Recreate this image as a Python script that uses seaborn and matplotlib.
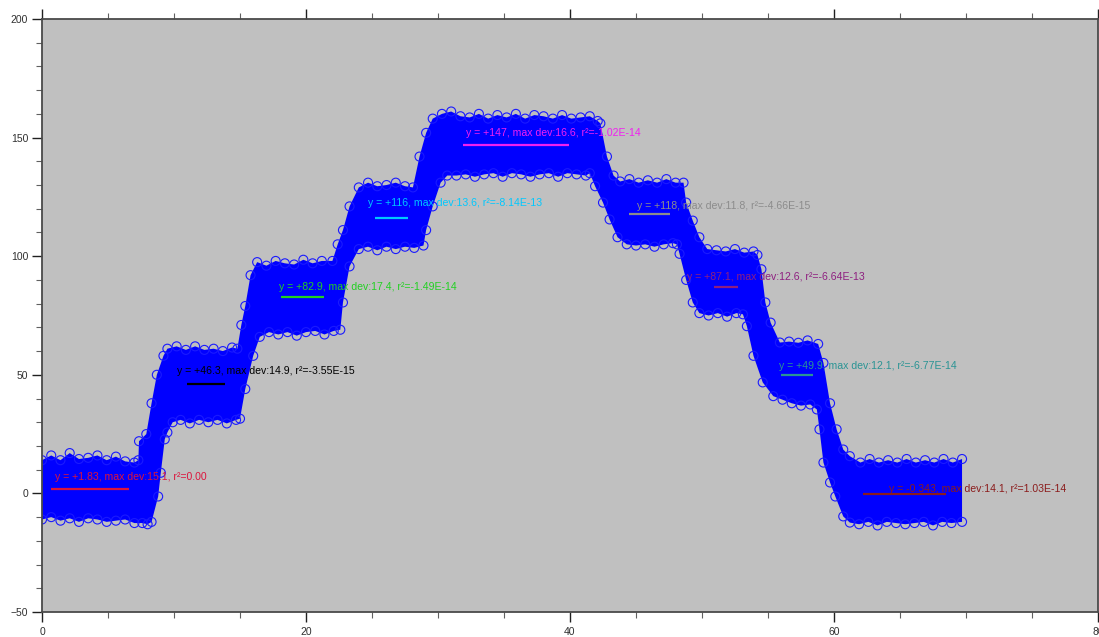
import matplotlib
matplotlib.use("Agg")
import matplotlib.pyplot as plt
import seaborn as sns
import pandas as pd
from matplotlib.ticker import MultipleLocator

# ---- data ----
upper_x = [0, 0.7, 1.4, 2.1, 2.8, 3.5, 4.2, 4.9, 5.6, 6.3, 7.0, 7.3, 7.35, 7.9, 8.3, 8.7, 9.2, 9.5,
           10.2, 10.9, 11.6, 12.3, 13.0, 13.7, 14.4, 14.8, 15.1, 15.4, 15.8, 16.3,
           17.0, 17.7, 18.4, 19.1, 19.8, 20.5, 21.2, 22.0, 22.4, 22.8, 23.3, 24.0,
           24.7, 25.4, 26.1, 26.8, 27.5, 28.1, 28.6, 29.1, 29.6,
           30.3, 31.0, 31.7, 32.4, 33.1, 33.8, 34.5, 35.2, 35.9, 36.6, 37.3, 38.0, 38.7, 39.4, 40.1, 40.8, 41.5, 42.1,
           42.3, 42.8, 43.3, 43.8, 44.5, 45.2, 45.9, 46.6, 47.3, 48.0, 48.6,
           48.8, 49.3, 49.8, 50.4, 51.1, 51.8, 52.5, 53.2, 53.9, 54.2, 54.5, 54.8, 55.2, 55.9,
           56.6, 57.3, 58.0, 58.8, 59.2, 59.7, 60.2, 60.7, 61.2, 62.0,
           62.7, 63.4, 64.1, 64.8, 65.5, 66.2, 66.9, 67.6, 68.3, 69.0, 69.7]
upper_y = [14, 16, 14, 17, 14.5, 15, 16, 14, 15.5, 13.5, 13, 14, 22, 25, 38, 50, 58, 61,
           62, 60.5, 62, 60.5, 61, 60, 61.5, 61, 71, 79, 92, 97.5,
           96, 98, 97, 96.5, 98.5, 97, 98, 98, 105, 111, 121, 129,
           131, 129.5, 130, 131, 129.5, 129, 142, 152, 158,
           160, 161, 159, 158.5, 160, 158, 159.5, 158.5, 160, 158, 159.5, 159, 158, 159.5, 158, 158.5, 159, 157,
           156, 142, 134, 131.5, 132.5, 131, 132, 131, 132.5, 131, 131,
           122.6, 115, 108, 103, 102.5, 102, 103, 101.5, 102, 100.5, 94.5, 80.5, 72, 63.6,
           64, 63.5, 64.5, 63, 55, 38, 27, 18.5, 15.7, 13,
           14.5, 13, 14, 13, 14.5, 13, 14, 13, 14.5, 13, 14.5]

lower_x = [0, 0.7, 1.4, 2.1, 2.8, 3.5, 4.2, 4.9, 5.6, 6.3, 7.0, 7.6, 8.0, 8.3, 8.8, 9.0, 9.3, 9.5, 9.9,
           10.5, 11.2, 11.9, 12.6, 13.3, 14.0, 14.7, 15.0, 15.4, 16.0, 16.5,
           17.2, 17.9, 18.6, 19.3, 20.0, 20.7, 21.4, 22.1, 22.6, 22.8, 23.3, 24.0,
           24.7, 25.4, 26.1, 26.8, 27.5, 28.2, 28.9, 29.1, 29.6, 30.2, 30.7,
           31.4, 32.1, 32.8, 33.5, 34.2, 34.9, 35.6, 36.3, 37.0, 37.7, 38.4, 39.1, 39.8, 40.5, 41.2, 41.5,
           41.9, 42.5, 43.0, 43.6, 44.3, 45.0, 45.7, 46.4, 47.1, 47.8, 48.1,
           48.3, 48.8, 49.3, 49.8, 50.5, 51.2, 51.9, 52.6, 53.1, 53.4, 53.9, 54.6, 55.4,
           56.1, 56.8, 57.5, 58.2, 58.7, 58.9, 59.2, 59.7, 60.1, 60.7, 61.2,
           61.9, 62.6, 63.3, 64.0, 64.7, 65.4, 66.1, 66.8, 67.5, 68.2, 68.9, 69.7]
lower_y = [-11, -10, -11.5, -10.5, -12, -10.5, -11, -12, -11.5, -11, -12.5, -12.5, -13, -12, -1.3, 8.7, 22.8, 25.7, 30,
           31, 29.5, 31, 30, 31, 29.5, 31, 31.5, 44, 58, 66,
           68, 67, 68, 66.5, 68, 68.5, 67, 68.5, 69, 80.5, 95.7, 103,
           104, 102.5, 104, 103, 104, 103.5, 104.5, 111, 121, 131, 134,
           134, 134.5, 133.5, 134.5, 135, 133.5, 135, 134.5, 133.5, 134.5, 135, 133.5, 135, 134.5, 134, 135,
           129.5, 122.6, 115.5, 108, 105, 104.5, 105, 104, 105, 105.5, 105,
           101, 90, 80.5, 76, 75, 76, 74.5, 76, 75.5, 70.5, 58, 46.8, 41,
           39.5, 38, 37, 37.5, 35.4, 27, 13, 4.6, -1.3, -9.7, -12.3,
           -13, -12, -13.5, -12, -12.5, -13, -12.5, -12, -13.5, -12, -12.5, -12]

fit_levels = [1.83, 46.3, 82.9, 116, 147, 118, 87.1, 49.9, -0.343]
fit_x_start = [0.68, 11.0, 18.1, 25.2, 31.9, 44.5, 50.9, 56.0, 62.2]
fit_x_end = [6.6, 13.9, 21.4, 27.7, 39.9, 47.6, 52.7, 58.4, 68.5]
fit_labels = [
    "y = +1.83, max dev:15.1, r\u00b2=0.00",
    "y = +46.3, max dev:14.9, r\u00b2=-3.55E-15",
    "y = +82.9, max dev:17.4, r\u00b2=-1.49E-14",
    "y = +116, max dev:13.6, r\u00b2=-8.14E-13",
    "y = +147, max dev:16.6, r\u00b2=-1.02E-14",
    "y = +118, max dev:11.8, r\u00b2=-4.66E-15",
    "y = +87.1, max dev:12.6, r\u00b2=-6.64E-13",
    "y = +49.9, max dev:12.1, r\u00b2=-6.77E-14",
    "y = -0.343, max dev:14.1, r\u00b2=1.03E-14",
]
label_x = [0.98, 10.2, 17.98, 24.7, 32.1, 45.1, 48.9, 55.8, 64.2]
label_y = [7.0, 51.6, 87.0, 122.5, 152.0, 121.1, 91.3, 53.7, 2.0]
fit_colors = ["#dc143c", "#000000", "#22d022", "#00c8ff", "#f020f0",
              "#8c8c8c", "#8e1f80", "#2a9494", "#8b1c1c"]

x_ticks = [0, 20, 40, 60, 80]
y_ticks = [-50, 0, 50, 100, 150, 200]

# ---- figure ----
sns.set_theme(style="white")
plt.rcParams["font.family"] = ["Liberation Sans", "DejaVu Sans"]

fig = plt.figure(figsize=(10.99, 6.37), dpi=100)
ax = fig.add_axes([42 / 1099, 25 / 637, 1056 / 1099, 593 / 637])
ax.set_facecolor("#c0c0c0")

# band of points (filled envelope)
poly_x = upper_x + lower_x[::-1]
poly_y = upper_y + lower_y[::-1]
ax.fill(poly_x, poly_y, color="#0000ff", lw=0, zorder=1)

edge_df = pd.DataFrame({"x": upper_x + lower_x, "y": upper_y + lower_y})
sns.scatterplot(data=edge_df, x="x", y="y", ax=ax, marker="o", s=42,
                facecolor="none", edgecolor="#1a1aff", linewidth=0.8, zorder=2,
                legend=False)

for xs, xe, lv, lab, lx, ly, c in zip(fit_x_start, fit_x_end, fit_levels, fit_labels,
                                      label_x, label_y, fit_colors):
    ax.hlines(lv, xs, xe, colors=c, linewidth=1.6, zorder=3)
    ax.text(lx, ly, lab, color=c, fontsize=7.6, ha="left", va="center", zorder=4)

ax.set_xlim(0, 80)
ax.set_ylim(-50, 200)
ax.set_xticks(x_ticks)
ax.set_yticks(y_ticks)
ax.xaxis.set_minor_locator(MultipleLocator(5))
ax.yaxis.set_minor_locator(MultipleLocator(10))
ax.set_xlabel("")
ax.set_ylabel("")

ax.tick_params(axis="both", which="major", direction="out", length=7, width=1,
               color="#202020", labelsize=7.5, labelcolor="#303030", pad=3)
ax.tick_params(axis="both", which="minor", direction="out", length=4, width=0.8,
               color="#606060")
ax.tick_params(axis="x", which="both", top=True, bottom=True, pad=4)
ax.tick_params(axis="y", which="both", left=True, right=False)

for side in ["left", "bottom", "top", "right"]:
    ax.spines[side].set_visible(True)
    ax.spines[side].set_color("#4a4a4a")
    ax.spines[side].set_linewidth(1.3)

fig.savefig("out.png", dpi=100, facecolor="white")
